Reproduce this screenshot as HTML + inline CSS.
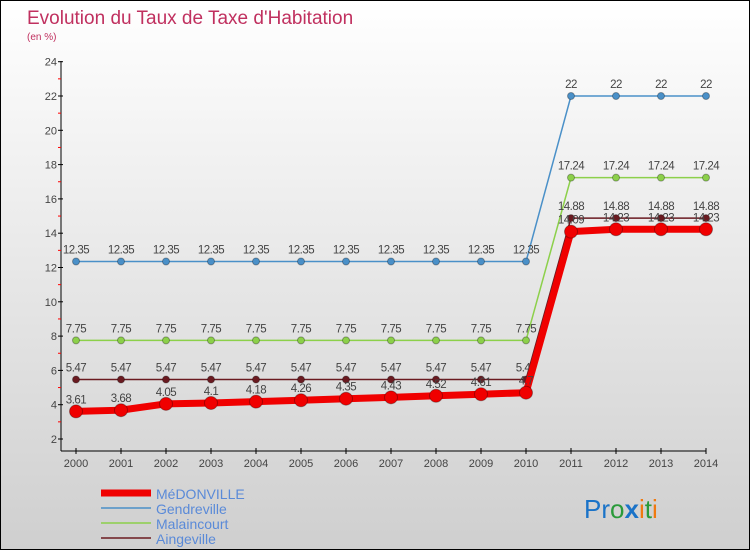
<!DOCTYPE html>
<html><head><meta charset="utf-8"><style>
body{margin:0}
#c{width:748px;height:548px;border:1px solid #000;background:linear-gradient(#fff,#cfcfcf);position:relative;font-family:"Liberation Sans",sans-serif}
</style></head><body>
<div id="c">
<svg width="748" height="548" id="s">
<text x="26" y="23" font-size="19" fill="#c0305f">Evolution du Taux de Taxe d'Habitation</text>
<text x="26" y="39" font-size="10" fill="#c0305f">(en %)</text>
<text x="583" y="517" font-size="26"><tspan fill="#1a73c8">Pr</tspan><tspan fill="#2a9a3a">o</tspan><tspan fill="#1a73c8" font-weight="bold">x</tspan><tspan fill="#f07a10">i</tspan><tspan fill="#2a9a3a">t</tspan><tspan fill="#f07a10">i</tspan></text>
</svg></div>
<script>
const years=[2000,2001,2002,2003,2004,2005,2006,2007,2008,2009,2010,2011,2012,2013,2014];
const medonville=[3.61,3.68,4.05,4.1,4.18,4.26,4.35,4.43,4.52,4.61,4.7,14.09,14.23,14.23,14.23];
const gendreville=[12.35,12.35,12.35,12.35,12.35,12.35,12.35,12.35,12.35,12.35,12.35,22,22,22,22];
const malaincourt=[7.75,7.75,7.75,7.75,7.75,7.75,7.75,7.75,7.75,7.75,7.75,17.24,17.24,17.24,17.24];
const aingeville=[5.47,5.47,5.47,5.47,5.47,5.47,5.47,5.47,5.47,5.47,5.47,14.88,14.88,14.88,14.88];
const yTicks=[2,4,6,8,10,12,14,16,18,20,22,24];
const s=document.getElementById('s'),NS='http://www.w3.org/2000/svg';
const X=i=>75+i*45, Y=v=>438-(v-2)*17.15;
function el(t,a,p){const e=document.createElementNS(NS,t);for(const k in a)e.setAttribute(k,a[k]);(p||s).appendChild(e);return e;}
let ax=el('line',{x1:60,y1:60,x2:60,y2:450,stroke:'#000'});


let bx=el('line',{x1:60,y1:450,x2:705,y2:450,stroke:'#000'});


yTicks.forEach(v=>{el('line',{x1:57,y1:Y(v),x2:62,y2:Y(v),stroke:'#000'});
 if(v<24)el('line',{x1:57,y1:Y(v+1),x2:60,y2:Y(v+1),stroke:'red'});
 const t=el('text',{x:56,y:Y(v)+4,'font-size':11,fill:'#444','text-anchor':'end'});t.textContent=v;
 
 });
years.forEach((y,i)=>{el('line',{x1:X(i),y1:447,x2:X(i),y2:453,stroke:'#000'});
 const t=el('text',{x:X(i),y:466,'font-size':11,fill:'#444','text-anchor':'middle'});t.textContent=y;
 
 });
function series(d,col,w,r,name){
 const g=el('g',{});
 
 
 el('polyline',{points:d.map((v,i)=>X(i)+','+Y(v)).join(' '),fill:'none',stroke:col,'stroke-width':w},g);
 d.forEach((v,i)=>{const c=el('circle',{cx:X(i),cy:Y(v),r:r,fill:col,stroke:'rgba(0,0,0,0.3)'},g);
  
  
  const t=el('text',{x:X(i),y:Y(v)-8,'font-size':11.5,fill:'#444','text-anchor':'middle','letter-spacing':'-0.5'},g);t.textContent=v;
  
  });
}
series(gendreville,'#4a90c8',1.5,3.5,'gendreville');
series(malaincourt,'#8cd04a',1.5,3.5,'malaincourt');
series(aingeville,'#6a1a20',1.5,3.5,'aingeville');
series(medonville,'#f00000',7,6.5,'medonville');
const leg=[['MéDONVILLE','#f00000',7],['Gendreville','#4a90c8',1.5],['Malaincourt','#8cd04a',1.5],['Aingeville','#6a1a20',1.5]];
leg.forEach((l,i)=>{const y=492+i*15;
 const g=el('g',{});
 
 
 el('line',{x1:100,y1:y,x2:150,y2:y,stroke:l[1],'stroke-width':l[2]},g);
 const t=el('text',{x:155,y:y+6,'font-size':14,fill:'#5a8ad8'},g);t.textContent=l[0];});
</script></body></html>
